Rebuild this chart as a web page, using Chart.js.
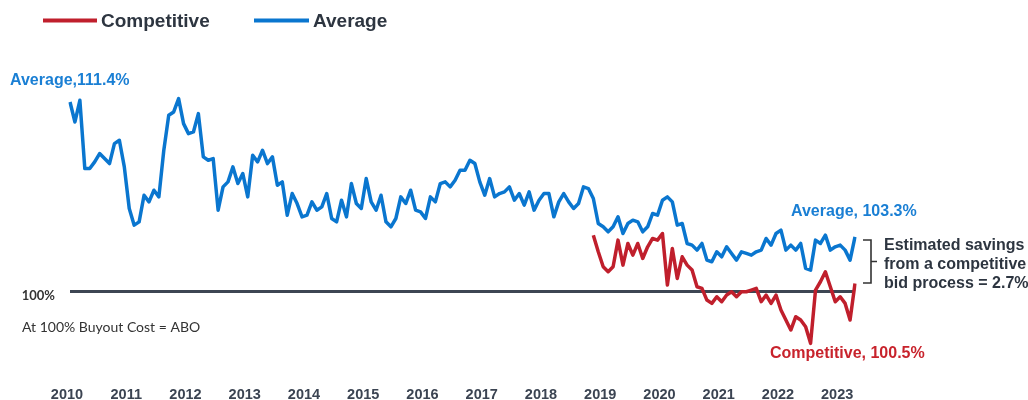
<!DOCTYPE html>
<html>
<head>
<meta charset="utf-8">
<title>Buyout cost vs ABO</title>
<script src="https://cdn.jsdelivr.net/npm/chart.js@4.4.1/dist/chart.umd.min.js"></script>
<style>
  html, body { margin: 0; padding: 0; background: #fff; }
  #wrap { width: 1028px; height: 400px; }
</style>
</head>
<body>
<div id="wrap"><canvas id="buyoutChart" width="1028" height="400"></canvas></div>
<script>
// Years on the x axis; monthly points from Jan 2010 to Apr 2023
const years = ['2010', '2011', '2012', '2013', '2014', '2015', '2016',
  '2017', '2018', '2019', '2020', '2021', '2022', '2023'];
const monthsInLastYear = 4;

// Average buyout cost, % of ABO
const average = [
  111.4, 110.2, 111.5, 107.4, 107.4, 107.8, 108.3, 108.0, 107.7, 108.9,
  109.1, 107.5, 105.0, 104.0, 104.2, 105.8, 105.4, 106.1, 105.7, 108.5,
  110.6, 110.8, 111.6, 110.1, 109.5, 109.6, 110.7, 108.1, 107.9, 108.0,
  104.9, 106.3, 106.6, 107.5, 106.5, 107.1, 105.7, 108.2, 107.8, 108.5,
  107.7, 108.1, 106.4, 106.6, 104.6, 105.9, 105.3, 104.5, 104.6, 105.4,
  104.9, 105.1, 105.9, 104.4, 104.2, 105.5, 104.5, 106.5, 105.3, 105.0,
  106.8, 105.4, 104.9, 105.8, 104.2, 103.9, 104.4, 105.7, 105.3, 106.1,
  104.9, 104.8, 104.4, 105.7, 105.4, 106.5, 106.6, 106.3, 106.7, 107.3,
  107.3, 107.9, 107.7, 106.6, 105.8, 106.8, 105.7, 105.9, 106.0, 106.3,
  105.5, 105.9, 105.2, 106.0, 104.9, 105.5, 105.9, 105.9, 104.5, 105.4,
  105.9, 105.4, 105.0, 105.3, 106.3, 106.2, 105.6, 104.1, 103.9, 103.6,
  103.9, 104.5, 103.5, 104.1, 104.3, 104.2, 103.6, 103.9, 104.7, 104.6,
  105.5, 105.7, 105.4, 104.0, 104.1, 102.9, 102.8, 102.5, 102.9, 101.9,
  101.8, 102.4, 102.1, 102.7, 102.3, 101.9, 102.4, 102.3, 102.2, 102.4,
  102.5, 103.2, 102.8, 103.5, 103.7, 102.5, 102.8, 102.5, 102.9, 101.4,
  101.3, 103.1, 102.9, 103.4, 102.5, 102.7, 102.8, 102.5, 101.9, 103.3
];

// Competitive bid pricing, % of ABO, starting Nov 2018
const competitiveStart = '2018-11';
const competitive = [
  103.4, 102.4, 101.5, 101.2,
  101.5, 103.1, 101.6, 102.9, 102.2, 102.9, 102.0, 102.7, 103.2, 103.1,
  103.5, 100.4, 102.6, 100.8, 102.1, 101.6, 101.3, 100.3, 100.2, 99.5,
  99.3, 99.7, 99.4, 99.8, 100.0, 99.7, 100.0, 100.0, 100.1, 100.2,
  99.4, 99.8, 99.3, 99.8, 98.9, 98.3, 97.7, 98.5, 98.3, 97.9,
  96.9, 100.1, 100.6, 101.2, 100.3, 99.4, 99.7, 99.3, 98.3, 100.5
];

const BLUE = '#0a76cf';
const RED = '#c01f2c';
const DARK = '#2d3540';
const FONT = '"Liberation Sans", Arial, Helvetica, sans-serif';

// month labels
const months = [];
years.forEach((y, i) => {
  const n = i === years.length - 1 ? monthsInLastYear : 12;
  for (let m = 1; m <= n; m++) months.push(y + '-' + String(m).padStart(2, '0'));
});
const compOffset = months.indexOf(competitiveStart);
const competitiveFull = months.map((_, i) => (i < compOffset ? null : competitive[i - compOffset]));

// legend + text annotations
const notes = {
  id: 'notes',
  afterDraw(chart) {
    const ctx = chart.ctx;
    ctx.save();
    ctx.textBaseline = 'alphabetic';
    ctx.textAlign = 'left';

    // legend
    ctx.lineWidth = 4;
    ctx.lineCap = 'butt';
    ctx.strokeStyle = RED;
    ctx.beginPath(); ctx.moveTo(43, 20.5); ctx.lineTo(97, 20.5); ctx.stroke();
    ctx.strokeStyle = BLUE;
    ctx.beginPath(); ctx.moveTo(254, 20.5); ctx.lineTo(309, 20.5); ctx.stroke();
    ctx.fillStyle = DARK;
    ctx.font = 'bold 19px ' + FONT;
    ctx.fillText('Competitive', 101, 27);
    ctx.fillText('Average', 313, 27);

    // series labels
    ctx.font = 'bold 16px ' + FONT;
    ctx.fillStyle = '#1a7fd4';
    ctx.fillText('Average,111.4%', 10, 85);
    ctx.fillText('Average, 103.3%', 791, 216);
    ctx.fillStyle = '#c8232c';
    ctx.fillText('Competitive, 100.5%', 770, 358);

    // bracket
    ctx.strokeStyle = '#333';
    ctx.lineWidth = 1.6;
    ctx.beginPath();
    ctx.moveTo(863, 240); ctx.lineTo(871, 240); ctx.lineTo(871, 283); ctx.lineTo(863, 283);
    ctx.moveTo(871, 261.5); ctx.lineTo(877, 261.5);
    ctx.stroke();

    ctx.fillStyle = DARK;
    ctx.fillText('Estimated savings', 884, 250);
    ctx.fillText('from a competitive', 884, 269);
    ctx.fillText('bid process = 2.7%', 884, 288);

    ctx.fillStyle = '#333';
    ctx.font = '14px Lato, "Open Sans", sans-serif';
    ctx.textBaseline = 'middle';
    ctx.fillText('At 100% Buyout Cost = ABO', 22, 327);
    ctx.restore();
  }
};

const ctx = document.getElementById('buyoutChart').getContext('2d');
new Chart(ctx, {
  type: 'line',
  data: {
    labels: months,
    datasets: [
      {
        label: 'Competitive',
        data: competitiveFull,
        borderColor: RED,
        backgroundColor: RED
      },
      {
        label: 'Average',
        data: average,
        borderColor: BLUE,
        backgroundColor: BLUE
      }
    ]
  },
  options: {
    responsive: false,
    animation: false,
    devicePixelRatio: 1,
    layout: { padding: { top: 92, left: 0, right: 173, bottom: 0 } },
    elements: {
      point: { radius: 0 },
      line: { borderWidth: 3.5, tension: 0, borderJoinStyle: 'round' }
    },
    plugins: {
      legend: { display: false },
      tooltip: { enabled: false }
    },
    scales: {
      x: {
        grid: { display: false, drawTicks: false },
        border: { display: false },
        afterBuildTicks: (axis) => {
          axis.ticks = axis.ticks.filter((t) => t.value % 12 === 0);
        },
        afterFit: (axis) => { axis.height = 50; },
        ticks: {
          autoSkip: false,
          maxRotation: 0,
          minRotation: 0,
          padding: 36,
          labelOffset: -3,
          color: '#3b4452',
          font: { family: FONT, size: 14.5, weight: 'bold' },
          callback: function (value) {
            return this.getLabelForValue(value).slice(0, 4);
          }
        }
      },
      y: {
        min: 96.5,
        max: 112,
        grid: { color: '#3d4653', lineWidth: 3, drawTicks: false },
        border: { display: false },
        afterBuildTicks: (axis) => { axis.ticks = [{ value: 100 }]; },
        afterFit: (axis) => { axis.width = 70; },
        ticks: {
          padding: 15,
          labelOffset: 4,
          color: '#333',
          font: { family: 'Lato, "Open Sans", sans-serif', size: 13, weight: 'bold' },
          callback: (v) => v + '%'
        }
      }
    }
  },
  plugins: [notes]
});
</script>
</body>
</html>
